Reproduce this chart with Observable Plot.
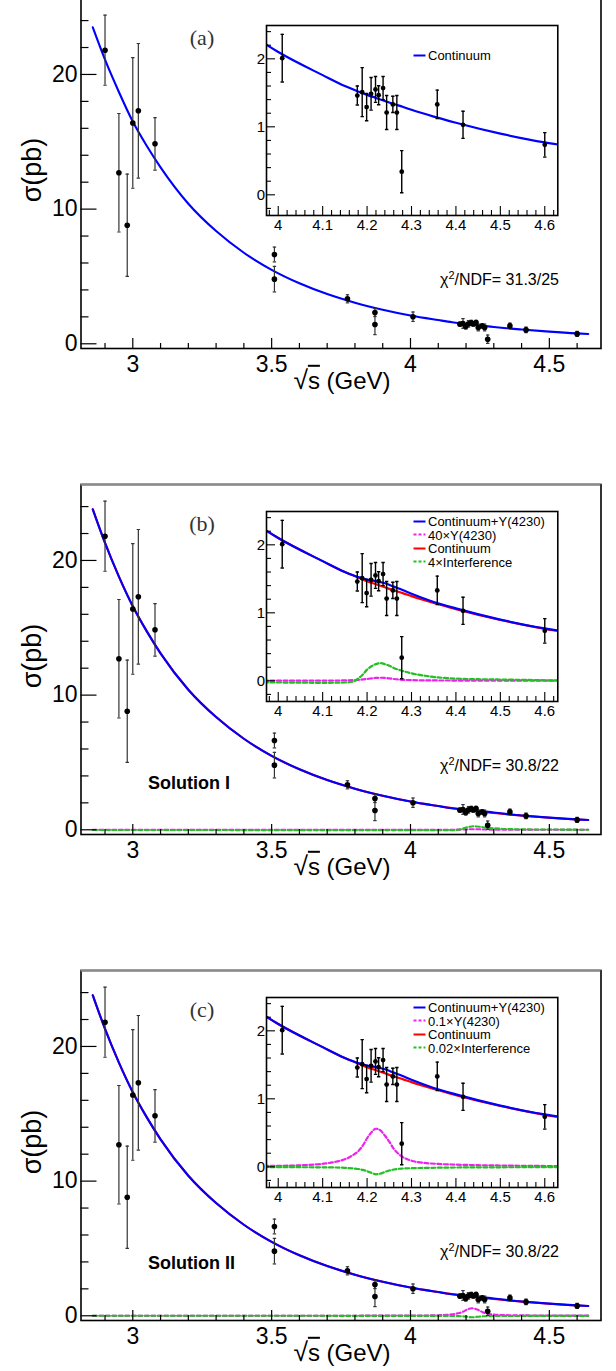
<!DOCTYPE html>
<html><head><meta charset="utf-8">
<script src="https://cdn.jsdelivr.net/npm/d3@7"></script>
<script src="https://cdn.jsdelivr.net/npm/@observablehq/plot@0.6"></script>
<style>
html,body{margin:0;padding:0;background:#fff;}
#page{position:relative;width:616px;height:1371px;overflow:hidden;background:#fff;font-family:"Liberation Sans",Arial,Helvetica,sans-serif;color:#000;}
.abs{position:absolute;white-space:nowrap;line-height:1;}
</style></head><body><div id="page"></div>
<script>
// ---------------- data ----------------
const energy   = [2.90, 2.95, 2.98, 3.00, 3.02, 3.08, 3.51, 3.51, 3.773, 3.872, 3.872, 4.009,
                  4.178, 4.189, 4.199, 4.209, 4.219, 4.226, 4.236, 4.244, 4.258, 4.267, 4.278, 4.358, 4.416, 4.600];
const sigma    = [21.8, 12.7, 8.8, 16.4, 17.3, 14.85, 6.63, 4.8, 3.34, 2.32, 1.43, 2.01,
                  1.46, 1.51, 1.29, 1.485, 1.55, 1.465, 1.57, 1.21, 1.33, 1.21, 0.34, 1.33, 1.03, 0.735];
const sigmaErr = [2.6, 4.4, 3.8, 4.85, 5.0, 1.95, 0.55, 0.95, 0.3, 0.3, 0.75, 0.35,
                  0.14, 0.36, 0.2, 0.24, 0.19, 0.14, 0.17, 0.25, 0.12, 0.25, 0.31, 0.21, 0.2, 0.18];

// fitted curves
const gridE   = [2.856, 2.9, 2.95, 3.0, 3.05, 3.1, 3.2, 3.3, 3.4, 3.5, 3.6, 3.7, 3.8, 3.9, 4.0, 4.1,
                 4.15, 4.18, 4.2, 4.22, 4.24, 4.26, 4.28, 4.3, 4.35, 4.4, 4.5, 4.6, 4.64];
const contA   = [23.5, 21.1, 18.7, 16.5, 14.7, 13.1, 10.4, 8.37, 6.76, 5.49, 4.49, 3.69, 3.05, 2.53, 2.10, 1.76,
                 1.60, 1.52, 1.47, 1.425, 1.38, 1.335, 1.295, 1.25, 1.15, 1.06, 0.90, 0.77, 0.73];
const contBC  = [23.8, 21.3, 18.8, 16.6, 14.75, 13.1, 10.4, 8.37, 6.76, 5.49, 4.49, 3.69, 3.05, 2.53, 2.10, 1.76,
                 1.60, 1.52, 1.465, 1.42, 1.375, 1.33, 1.29, 1.245, 1.145, 1.055, 0.895, 0.765, 0.725];
const totalBC = [23.8, 21.3, 18.8, 16.6, 14.75, 13.1, 10.4, 8.37, 6.76, 5.49, 4.49, 3.69, 3.05, 2.53, 2.10, 1.76,
                 1.60, 1.525, 1.49, 1.465, 1.435, 1.385, 1.335, 1.28, 1.16, 1.065, 0.90, 0.77, 0.73];

const resE = [2.856, 3.5, 4.0, 4.05, 4.1, 4.13, 4.15, 4.17, 4.18, 4.19, 4.2, 4.21, 4.22, 4.23, 4.24,
              4.25, 4.26, 4.27, 4.28, 4.3, 4.33, 4.36, 4.4, 4.45, 4.5, 4.55, 4.64];
const y4230B = [0, 0, 0.002, 0.002, 0.003, 0.004, 0.006, 0.01, 0.014, 0.02, 0.028, 0.036, 0.043, 0.045, 0.042,
                0.035, 0.027, 0.02, 0.015, 0.01, 0.006, 0.005, 0.004, 0.003, 0.003, 0.002, 0.002];
const interfB = [-0.02, -0.022, -0.025, -0.027, -0.03, -0.028, -0.025, -0.01, 0.035, 0.09, 0.165, 0.215, 0.245, 0.26, 0.245,
                 0.22, 0.19, 0.165, 0.145, 0.11, 0.075, 0.05, 0.032, 0.024, 0.019, 0.014, 0.004];
const y4230C = [0, 0.003, 0.015, 0.022, 0.045, 0.075, 0.11, 0.18, 0.23, 0.31, 0.42, 0.51, 0.56, 0.535, 0.46,
                0.37, 0.265, 0.195, 0.145, 0.09, 0.057, 0.042, 0.032, 0.024, 0.019, 0.015, 0.01];
const interfC = [0, -0.002, -0.005, -0.006, -0.008, -0.01, -0.015, -0.025, -0.032, -0.045, -0.065, -0.09, -0.11, -0.1, -0.075,
                 -0.055, -0.04, -0.03, -0.025, -0.02, -0.016, -0.013, -0.01, -0.008, -0.007, -0.006, -0.005];

// axes
const xMainDomain = [2.8135, 4.686];
const yMainDomain = [-0.35, 25.64];
const xInsetDomain = [3.9736, 4.6293];
const yInsetDomain = [-0.304, 2.49];
const xMainTicks = [3, 3.5, 4, 4.5];
const yMainTicks = [0, 10, 20];
const xInsetTicks = [4, 4.1, 4.2, 4.3, 4.4, 4.5, 4.6];
const yInsetTicks = [0, 1, 2];

// labels
const panelTags = ["(a)", "(b)", "(c)"];
const chi2Texts = ["31.3/25", "30.8/22", "30.8/22"];
const solutionNames = [null, "Solution I", "Solution II"];
const legendLabels = [
  ["Continuum"],
  ["Continuum+Y(4230)", "40×Y(4230)", "Continuum", "4×Interference"],
  ["Continuum+Y(4230)", "0.1×Y(4230)", "Continuum", "0.02×Interference"]
];

// ---------------- build ----------------
const BLUE = "#0000ff", RED = "#ff0000", MAG = "#ee22ee", GREEN = "#22c022";
const FONT = "'Liberation Sans', Arial, Helvetica, sans-serif";
const pts = energy.map((E, i) => ({E, s: sigma[i], lo: sigma[i] - sigmaErr[i], hi: sigma[i] + sigmaErr[i]}));
const series = (xs, ys) => xs.map((E, i) => ({E, v: ys[i]}));
const cap = {draw(ctx, size) { const r = Math.sqrt(size / Math.PI); ctx.moveTo(-r, 0); ctx.lineTo(r, 0); }};
const fmt = d => String(d);

const panelLines = [
  [{data: series(gridE, contA), stroke: BLUE, dash: null}],
  [{data: series(resE, y4230B), stroke: MAG, dash: "4,2.5"},
   {data: series(resE, interfB), stroke: GREEN, dash: "4,2.5"},
   {data: series(gridE, contBC), stroke: RED, dash: null},
   {data: series(gridE, totalBC), stroke: BLUE, dash: null}],
  [{data: series(resE, y4230C), stroke: MAG, dash: "4,2.5"},
   {data: series(resE, interfC), stroke: GREEN, dash: "4,2.5"},
   {data: series(gridE, contBC), stroke: RED, dash: null},
   {data: series(gridE, totalBC), stroke: BLUE, dash: null}]
];
const legendStyles = [
  [{stroke: BLUE, dash: null}],
  [{stroke: BLUE, dash: null}, {stroke: MAG, dash: "3,2"}, {stroke: RED, dash: null}, {stroke: GREEN, dash: "3,2"}],
  [{stroke: BLUE, dash: null}, {stroke: MAG, dash: "3,2"}, {stroke: RED, dash: null}, {stroke: GREEN, dash: "3,2"}]
];

const range = (a, b, step) => d3.range(Math.round(a / step), Math.round(b / step) + 1).map(i => +(i * step).toFixed(4));
const notIn = arr => v => !arr.some(t => Math.abs(t - v) < 1e-6);
const xMainMinor = range(2.9, 4.6, 0.1).filter(notIn(xMainTicks));
const yMainMinor = range(2, 24, 2).filter(notIn(yMainTicks));
const xInsetMinor = range(3.98, 4.62, 0.02).filter(notIn(xInsetTicks));
const yInsetMinor = range(-0.2, 2.4, 0.2).filter(notIn(yInsetTicks));

function pointMarks(clip, lw, col, r) {
  return [
    Plot.ruleX(pts, {x: "E", y1: "lo", y2: "hi", stroke: col, strokeWidth: lw, clip}),
    Plot.dot(pts, {x: "E", y: "lo", symbol: cap, r: 1.7, stroke: col, fill: "none", strokeWidth: lw, clip}),
    Plot.dot(pts, {x: "E", y: "hi", symbol: cap, r: 1.7, stroke: col, fill: "none", strokeWidth: lw, clip}),
    Plot.dot(pts, {x: "E", y: "s", r, fill: "black", stroke: "none", clip})
  ];
}

function mainPlot(i) {
  const fw = 520, fh = 350;
  return Plot.plot({
    width: 616, height: 400, marginTop: 10, marginBottom: 40, marginLeft: 80.5, marginRight: 15.5,
    x: {domain: xMainDomain}, y: {domain: yMainDomain},
    style: {background: "transparent", fontFamily: FONT, overflow: "visible", color: "black"},
    marks: [
      ...panelLines[i].map(l => Plot.line(l.data, {x: "E", y: "v", stroke: l.stroke, strokeWidth: 2.1,
          strokeDasharray: l.dash, curve: "monotone-x", clip: true})),
      ...pointMarks(true, 1.2, "#333", 2.8),
      Plot.tickX(xMainMinor, {x: d => d, insetTop: fh - 5, stroke: "black", strokeWidth: 1.2}),
      Plot.tickX(xMainTicks, {x: d => d, insetTop: fh - 10, stroke: "black", strokeWidth: 1.2}),
      Plot.tickY(yMainMinor, {y: d => d, insetRight: fw - 8, stroke: "black", strokeWidth: 1.2}),
      Plot.tickY(yMainTicks, {y: d => d, insetRight: fw - 16, stroke: "black", strokeWidth: 1.2}),
      Plot.axisX({ticks: xMainTicks, tickFormat: fmt, tickSize: 0, tickPadding: 7, fontSize: 23, label: null}),
      Plot.axisY({ticks: yMainTicks, tickFormat: fmt, tickSize: 0, tickPadding: 3.5, fontSize: 23, label: null}),
      Plot.frame({stroke: "black", strokeWidth: 1.6}),
      Plot.ruleY([yMainDomain[1]], {stroke: "#8a8a8a", strokeWidth: 2})
    ]
  });
}

function insetPlot(i) {
  const fw = 291.3, fh = 190;
  return Plot.plot({
    width: 326.3, height: 220, marginTop: 5, marginBottom: 25, marginLeft: 30, marginRight: 5,
    x: {domain: xInsetDomain}, y: {domain: yInsetDomain},
    style: {background: "transparent", fontFamily: FONT, overflow: "visible", color: "black"},
    marks: [
      Plot.frame({fill: "white", stroke: "none"}),
      ...panelLines[i].map(l => Plot.line(l.data, {x: "E", y: "v", stroke: l.stroke, strokeWidth: 2.2,
          strokeDasharray: l.dash, curve: "monotone-x", clip: true})),
      ...pointMarks(true, 1.4, "black", 2.4),
      Plot.tickX(xInsetMinor, {x: d => d, insetTop: fh - 5, stroke: "black", strokeWidth: 1.1}),
      Plot.tickX(xInsetTicks, {x: d => d, insetTop: fh - 9, stroke: "black", strokeWidth: 1.1}),
      Plot.tickY(yInsetMinor, {y: d => d, insetRight: fw - 5, stroke: "black", strokeWidth: 1.1}),
      Plot.tickY(yInsetTicks, {y: d => d, insetRight: fw - 9, stroke: "black", strokeWidth: 1.1}),
      Plot.axisX({ticks: xInsetTicks, tickFormat: fmt, tickSize: 0, tickPadding: 4, fontSize: 15, label: null}),
      Plot.axisY({ticks: yInsetTicks, tickFormat: fmt, tickSize: 0, tickPadding: 1.5, fontSize: 15, label: null}),
      Plot.frame({stroke: "black", strokeWidth: 1.6})
    ]
  });
}

const page = document.getElementById("page");
function put(el, left, top, transform) {
  el.classList.add("abs");
  el.style.left = left + "px"; el.style.top = top + "px";
  if (transform) el.style.transform = transform;
  page.appendChild(el);
  return el;
}
function html(tag, content, css) {
  const el = document.createElement(tag);
  el.innerHTML = content;
  if (css) el.style.cssText = css;
  return el;
}

const PANEL_STEP = 486, PANEL_TOP = -2;
const solutionY = [0, 298.7, 292.7];
const legendTop = [57, 37, 37];

for (let i = 0; i < 3; i++) {
  const T = PANEL_TOP + PANEL_STEP * i;
  put(mainPlot(i), 0, T - 10);
  put(insetPlot(i), 236, T + 22);

  put(html("div", panelTags[i], "font-family:'Liberation Serif','Times New Roman',serif;font-size:22px;color:#333;"),
      202, T + 40, "translate(-50%,-50%)");
  put(html("div", "χ<sup style='font-size:0.68em;vertical-align:0.55em;line-height:0'>2</sup>/NDF= " + chi2Texts[i],
      "font-size:16px;"), 440, T + 282, "translate(0,-50%)");
  if (solutionNames[i]) {
    put(html("div", solutionNames[i], "font-size:18px;font-weight:bold;"), 148, T + solutionY[i], "translate(0,-50%)");
  }
  put(html("div", "<span style='font-size:1.1em'>√</span><span style='text-decoration:overline'>s</span> (GeV)", "font-size:24px;"),
      342, T + 382, "translate(-50%,-50%)");
  put(html("div", "σ(pb)", "font-size:27px;"), 32, T + 172, "translate(-50%,-50%) rotate(-90deg)");

  legendLabels[i].forEach((lab, k) => {
    const st = legendStyles[i][k];
    const sw = `<svg width="13" height="6" style="vertical-align:middle;margin-right:2px"><line x1="0.5" x2="12.5" y1="3" y2="3" stroke="${st.stroke}" stroke-width="2" ${st.dash ? `stroke-dasharray="${st.dash}"` : ""}/></svg>`;
    put(html("div", sw + "<span style='vertical-align:middle'>" + lab + "</span>", "font-size:13px;display:flex;align-items:center;"),
        413, T + legendTop[i] + 13.5 * k, "translate(0,-50%)");
  });
}
</script></body></html>
